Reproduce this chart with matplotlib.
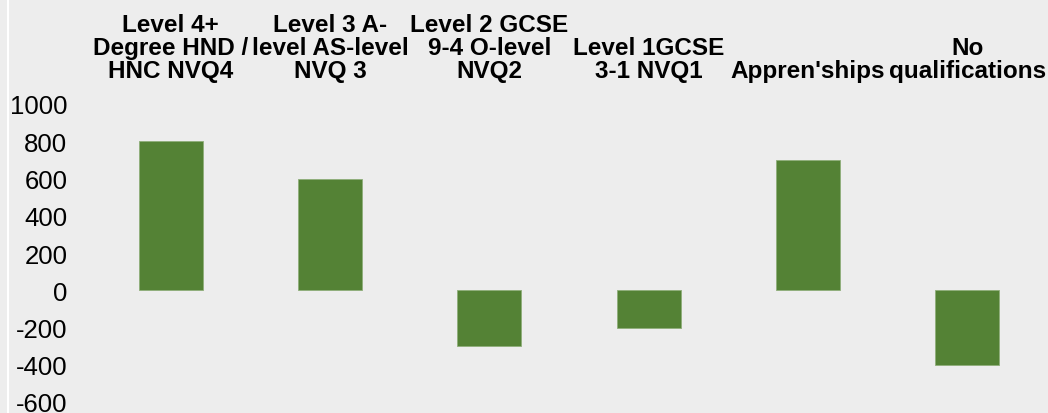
import numpy as np
import matplotlib.pyplot as plt
from matplotlib.lines import Line2D
import matplotlib.transforms as mtransforms

plt.rcParams['font.family'] = ['Liberation Sans', 'DejaVu Sans']

## DATA
categories = ['Level 4+\nDegree HND /\nHNC NVQ4',
              'Level 3 A-\nlevel AS-level\nNVQ 3',
              'Level 2 GCSE\n9-4 O-level\nNVQ2',
              'Level 1GCSE\n3-1 NVQ1',
              "Appren'ships",
              'No\nqualifications']
values = [800, 600, -300, -200, 700, -400]
yticks = [-600, -400, -200, 0, 200, 400, 600, 800, 1000]

bg = '#ededed'
green = '#548235'

fig = plt.figure(figsize=(10.48, 4.14), dpi=100, facecolor=bg)
ax = fig.add_axes([91/1048, 1 - 403/414, (1047 - 91)/1048, 298/414])
ax.set_facecolor(bg)

x = np.arange(len(values))
ax.bar(x, values, width=0.4, color=green, edgecolor='#8fae7a', linewidth=0.6)

ax.set_xlim(-0.5, len(values) - 0.5)
ax.set_ylim(-600, 1000)
ax.set_yticks(yticks)
ax.set_yticklabels([str(v) for v in yticks], fontsize=18.5)
ax.tick_params(axis='y', length=0, pad=17)
ax.set_xticks([])
for s in ax.spines.values():
    s.set_visible(False)

# category names sit above the plot, bottom-aligned
trans = mtransforms.blended_transform_factory(ax.transData, fig.transFigure)
for xi, name in zip(x, categories):
    ax.text(xi, 1 - 83/414, name, transform=trans, ha='center', va='bottom',
            fontsize=17.5, fontweight='bold', linespacing=1.0, multialignment='center')

# thin white rule at the left edge
fig.add_artist(Line2D([8/1048, 8/1048], [0, 1], color='white', linewidth=1.5))

fig.savefig('out.png', dpi=100, facecolor=bg)
